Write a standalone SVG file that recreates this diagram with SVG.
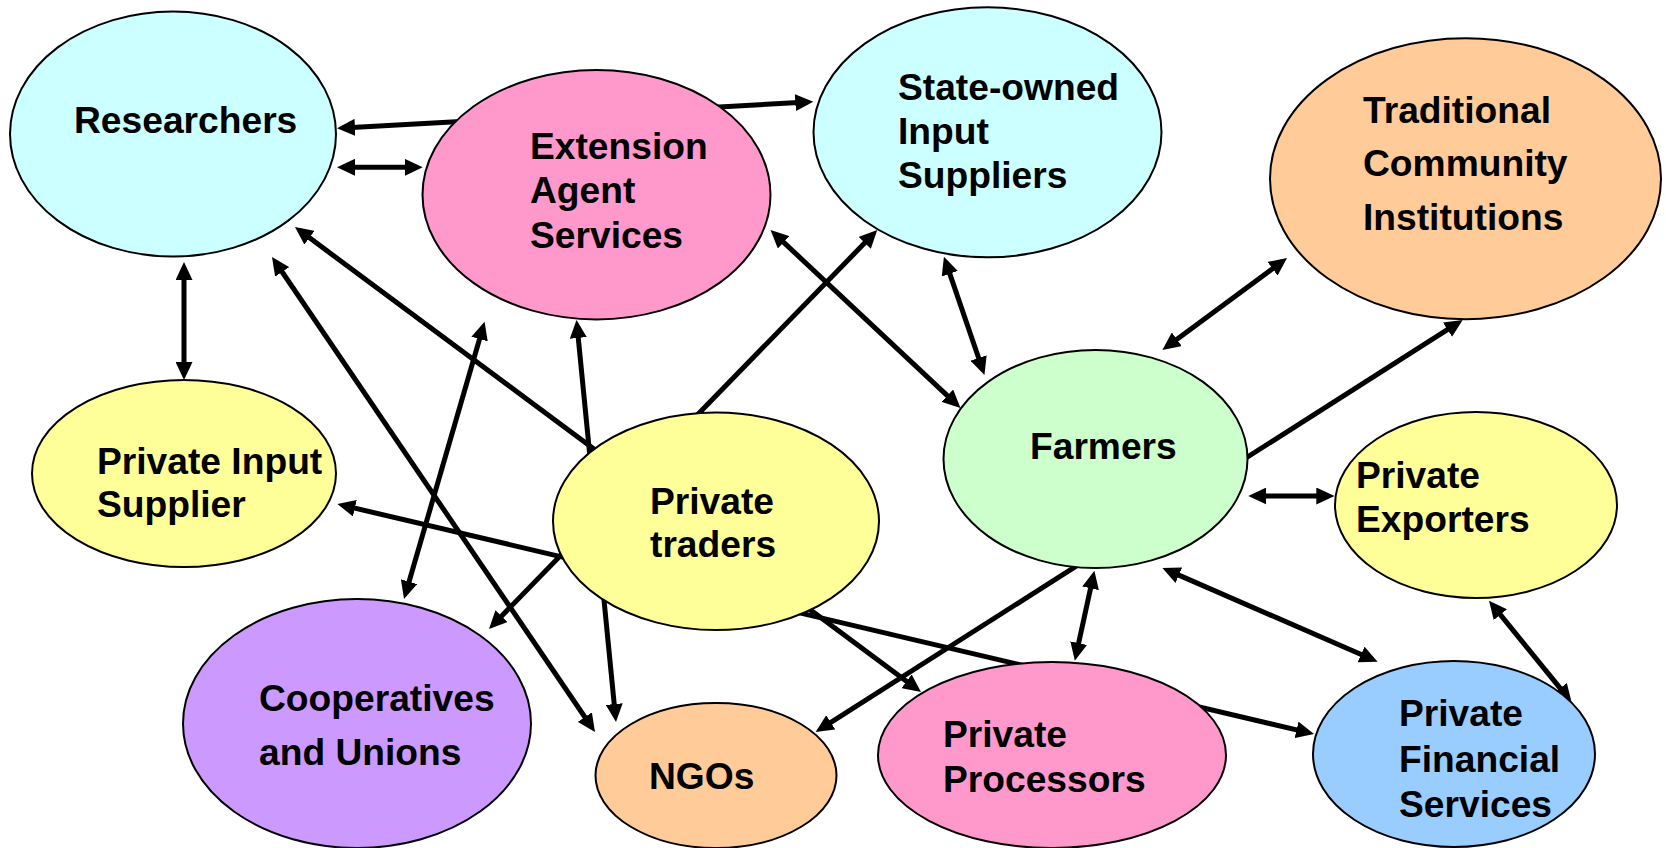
<svg xmlns="http://www.w3.org/2000/svg" width="1666" height="848" viewBox="0 0 1666 848">
<style>
.n{stroke:#000;stroke-width:2}
.t{font-family:"Liberation Sans",Arial,sans-serif;font-weight:bold;font-size:37.2px;fill:#000}
.c line{stroke:#000;stroke-width:5;marker-start:url(#ah);marker-end:url(#ah)}
</style>
<defs>
<marker id="ah" markerUnits="userSpaceOnUse" markerWidth="18" markerHeight="17" viewBox="0 0 18 17" refX="12" refY="8.5" orient="auto-start-reverse">
<path d="M0,0 L18,8.5 L0,17 z" fill="#000"/>
</marker>
</defs>
<rect width="1666" height="848" fill="#fff"/>
<g id="connectors" class="c">
<line x1="343" y1="128" x2="807.3" y2="102"/>
<line x1="343" y1="167.3" x2="416.7" y2="167.3"/>
<line x1="184" y1="268" x2="184" y2="374"/>
<line x1="299.8" y1="230.6" x2="916.2" y2="688.4"/>
<line x1="275.4" y1="262" x2="591.6" y2="727"/>
<line x1="577.1" y1="326" x2="615.4" y2="716"/>
<line x1="482.9" y1="327.5" x2="405.7" y2="593.2"/>
<line x1="873.1" y1="234.3" x2="493.2" y2="624.7"/>
<line x1="343.2" y1="505.4" x2="1308.2" y2="732.6"/>
<line x1="774.9" y1="234.1" x2="956.1" y2="403.9"/>
<line x1="945.9" y1="262.4" x2="982.5" y2="369.3"/>
<line x1="1282.2" y1="261.6" x2="1167.2" y2="346.4"/>
<line x1="1457.6" y1="323.2" x2="820.7" y2="728.8"/>
<line x1="1254.3" y1="496" x2="1328.3" y2="496"/>
<line x1="1093.1" y1="576.6" x2="1076.1" y2="654.8"/>
<line x1="1167.9" y1="570.4" x2="1372.1" y2="659.3"/>
<line x1="1492.8" y1="605.4" x2="1567.8" y2="697.6"/>
</g>
<g id="researchers"><ellipse class="n" cx="173" cy="134" rx="163" ry="122.5" fill="#CCFFFF"/><text class="t" x="74" y="133">Researchers</text></g>
<g id="extension"><ellipse class="n" cx="596.5" cy="194.7" rx="174" ry="124.7" fill="#FF99CC"/><text class="t" x="530" y="159">Extension</text><text class="t" x="530" y="203">Agent</text><text class="t" x="530" y="248">Services</text></g>
<g id="state-owned"><ellipse class="n" cx="987.5" cy="132.3" rx="174" ry="125" fill="#CCFFFF"/><text class="t" x="898" y="100">State-owned</text><text class="t" x="898" y="144">Input</text><text class="t" x="898" y="188">Suppliers</text></g>
<g id="traditional"><ellipse class="n" cx="1465.5" cy="178.7" rx="195.5" ry="140.5" fill="#FFCC99"/><text class="t" x="1363" y="123">Traditional</text><text class="t" x="1363" y="176">Community</text><text class="t" x="1363" y="230">Institutions</text></g>
<g id="private-input"><ellipse class="n" cx="184" cy="473.5" rx="152" ry="93.5" fill="#FFFF99"/><text class="t" x="97" y="474">Private Input</text><text class="t" x="97" y="517">Supplier</text></g>
<g id="traders"><ellipse class="n" cx="716" cy="521.3" rx="163" ry="108.7" fill="#FFFF99"/><text class="t" x="650" y="514">Private</text><text class="t" x="650" y="557">traders</text></g>
<g id="farmers"><ellipse class="n" cx="1095.5" cy="459" rx="152" ry="109" fill="#CCFFCC"/><text class="t" x="1030" y="459">Farmers</text></g>
<g id="exporters"><ellipse class="n" cx="1476" cy="505" rx="141" ry="93" fill="#FFFF99"/><text class="t" x="1356" y="488">Private</text><text class="t" x="1356" y="532">Exporters</text></g>
<g id="cooperatives"><ellipse class="n" cx="357" cy="723.5" rx="174" ry="124.5" fill="#CC99FF"/><text class="t" x="259" y="711">Cooperatives</text><text class="t" x="259" y="765">and Unions</text></g>
<g id="ngos"><ellipse class="n" cx="716" cy="775.5" rx="120.5" ry="72.5" fill="#FFCC99"/><text class="t" x="649" y="789">NGOs</text></g>
<g id="processors"><ellipse class="n" cx="1052" cy="755" rx="174" ry="93" fill="#FF99CC"/><text class="t" x="943" y="747">Private</text><text class="t" x="943" y="792">Processors</text></g>
<g id="financial"><ellipse class="n" cx="1454" cy="754" rx="141" ry="93" fill="#99CCFF"/><text class="t" x="1399" y="726">Private</text><text class="t" x="1399" y="772">Financial</text><text class="t" x="1399" y="817">Services</text></g>
</svg>
